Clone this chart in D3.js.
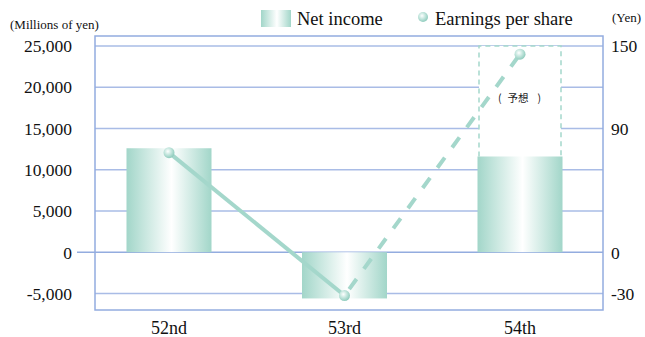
<!DOCTYPE html>
<html>
<head>
<meta charset="utf-8">
<script src="https://cdn.jsdelivr.net/npm/d3@7"></script>
<style>
  html, body { margin: 0; padding: 0; background: #fff; }
  svg { display: block; }
</style>
</head>
<body>
<svg id="chart" width="645" height="337"></svg>
<script>
// ---- data ----
const categories = ["52nd", "53rd", "54th"];
const netIncome = [12600, -5600, 11600];          // Millions of yen
const eps = [72.4, -31.5, 144];                   // Yen
const forecastIndex = 2;                          // 54th is a forecast
const forecastNetIncome = 25000;                  // dashed forecast box top
const leftTicks = [-5000, 0, 5000, 10000, 15000, 20000, 25000];
const leftTickLabels = ["-5,000", "0", "5,000", "10,000", "15,000", "20,000", "25,000"];
const rightTicks = [-30, 0, 90, 150];
const rightTickLabels = ["-30", "0", "90", "150"];
const forecastLabelParts = ["(", "予想", ")"];
const legendLabels = ["Net income", "Earnings per share"];

// ---- layout ----
const svg = d3.select("#chart");
const plot = { left: 95, right: 603, top: 36, bottom: 310 };
const teal = "#a4d7cb";
const grid = "#a9bce6";
const frame = "#93acdf";
const serif = "'Liberation Serif', 'Times New Roman', serif";

const y = d3.scaleLinear().domain([-7000, 26200]).range([plot.bottom, plot.top]);
const yR = d3.scaleLinear().domain([-7000 * 0.006, 26200 * 0.006]).range([plot.bottom, plot.top]);
const x = d3.scalePoint().domain(categories).range([81.25, 607.75]).padding(0.5);
const barW = 85;

// gradients
const defs = svg.append("defs");
const lg = defs.append("linearGradient").attr("id", "barGrad").attr("x1", "0%").attr("x2", "100%").attr("y1", "0%").attr("y2", "0%");
lg.append("stop").attr("offset", "0%").attr("stop-color", "#a2d6c9");
lg.append("stop").attr("offset", "53%").attr("stop-color", "#ffffff");
lg.append("stop").attr("offset", "100%").attr("stop-color", "#a2d6c9");
const rg = defs.append("radialGradient").attr("id", "dotGrad").attr("cx", "40%").attr("cy", "38%").attr("r", "65%");
rg.append("stop").attr("offset", "0%").attr("stop-color", "#ffffff");
rg.append("stop").attr("offset", "45%").attr("stop-color", "#c8e8e0");
rg.append("stop").attr("offset", "100%").attr("stop-color", "#8ccabb");

// grid lines
svg.append("g").selectAll("line").data(leftTicks.filter(d => d !== 0)).join("line")
  .attr("x1", plot.left).attr("x2", plot.right)
  .attr("y1", d => y(d)).attr("y2", d => y(d))
  .attr("stroke", grid).attr("stroke-width", 1.5);

// frame
svg.append("rect").attr("x", plot.left).attr("y", plot.top)
  .attr("width", plot.right - plot.left).attr("height", plot.bottom - plot.top)
  .attr("fill", "none").attr("stroke", frame).attr("stroke-width", 1.5);

// zero line with tick stub
svg.append("line").attr("x1", 77).attr("x2", plot.right)
  .attr("y1", y(0)).attr("y2", y(0)).attr("stroke", frame).attr("stroke-width", 1.5);

// forecast dashed box (open at the bottom, where it meets the bar)
const fx0 = x(categories[forecastIndex]) - barW / 2 + 1.5;
const fx1 = x(categories[forecastIndex]) + barW / 2 - 1.5;
const fyTop = y(forecastNetIncome);
const fyBot = y(netIncome[forecastIndex]);
const boxPath = d3.path();
boxPath.moveTo(fx0, fyBot); boxPath.lineTo(fx0, fyTop);
boxPath.lineTo(fx1, fyTop); boxPath.lineTo(fx1, fyBot);
svg.append("path").attr("d", boxPath.toString())
  .attr("fill", "#fff").attr("stroke", teal).attr("stroke-width", 1.5)
  .attr("stroke-dasharray", "5,4");

const fl = svg.append("text").attr("x", x(categories[forecastIndex]) - 22).attr("y", 102)
  .attr("font-family", "'Noto Sans CJK JP', sans-serif")
  .attr("font-size", 10.5).attr("fill", "#222");
fl.append("tspan").text(forecastLabelParts[0]);
fl.append("tspan").attr("dx", 6).text(forecastLabelParts[1]);
fl.append("tspan").attr("dx", 9).text(forecastLabelParts[2]);

// bars
svg.append("g").selectAll("rect").data(netIncome).join("rect")
  .attr("x", (d, i) => x(categories[i]) - barW / 2)
  .attr("y", d => y(Math.max(0, d)))
  .attr("width", barW)
  .attr("height", d => Math.abs(y(d) - y(0)))
  .attr("fill", "url(#barGrad)");

// EPS line: solid for actual, dashed to forecast
const pts = eps.map((v, i) => [x(categories[i]), yR(v)]);
const line = d3.line();
svg.append("path").attr("d", line(pts.slice(0, forecastIndex)))
  .attr("fill", "none").attr("stroke", teal).attr("stroke-width", 4);
svg.append("path").attr("d", line(pts.slice(forecastIndex - 1)))
  .attr("fill", "none").attr("stroke", teal).attr("stroke-width", 4)
  .attr("stroke-dasharray", "12.5,12.5").attr("stroke-dashoffset", -8);

svg.append("g").selectAll("circle").data(pts).join("circle")
  .attr("cx", d => d[0]).attr("cy", d => d[1]).attr("r", 5.5)
  .attr("fill", "url(#dotGrad)");

// left axis labels
svg.append("g").selectAll("text").data(leftTicks).join("text")
  .attr("x", 72).attr("y", d => y(d)).attr("dy", "0.36em")
  .attr("text-anchor", "end").attr("font-family", serif).attr("font-size", 17.5)
  .attr("fill", "#111").text((d, i) => leftTickLabels[i]);

// right axis labels
svg.append("g").selectAll("text").data(rightTicks).join("text")
  .attr("x", 611).attr("y", d => yR(d)).attr("dy", "0.36em")
  .attr("text-anchor", "start").attr("font-family", serif).attr("font-size", 17.5)
  .attr("fill", "#111").text((d, i) => rightTickLabels[i]);

// category labels
svg.append("g").selectAll("text").data(categories).join("text")
  .attr("x", d => x(d)).attr("y", 334)
  .attr("text-anchor", "middle").attr("font-family", serif).attr("font-size", 18)
  .attr("fill", "#111").text(d => d);

// unit labels
svg.append("text").attr("x", 10).attr("y", 29).attr("font-family", serif)
  .attr("font-size", 13).attr("fill", "#111").text("(Millions of yen)");
svg.append("text").attr("x", 612).attr("y", 22).attr("font-family", serif)
  .attr("font-size", 13).attr("fill", "#111").text("(Yen)");

// legend
svg.append("rect").attr("x", 261).attr("y", 10).attr("width", 30).attr("height", 17)
  .attr("fill", "url(#barGrad)");
svg.append("text").attr("x", 297).attr("y", 25).attr("font-family", serif)
  .attr("font-size", 18.5).attr("fill", "#111").text(legendLabels[0]);
svg.append("circle").attr("cx", 423).attr("cy", 17).attr("r", 5)
  .attr("fill", "url(#dotGrad)");
svg.append("text").attr("x", 435).attr("y", 25).attr("font-family", serif)
  .attr("font-size", 18.5).attr("fill", "#111").text(legendLabels[1]);
</script>
</body>
</html>
